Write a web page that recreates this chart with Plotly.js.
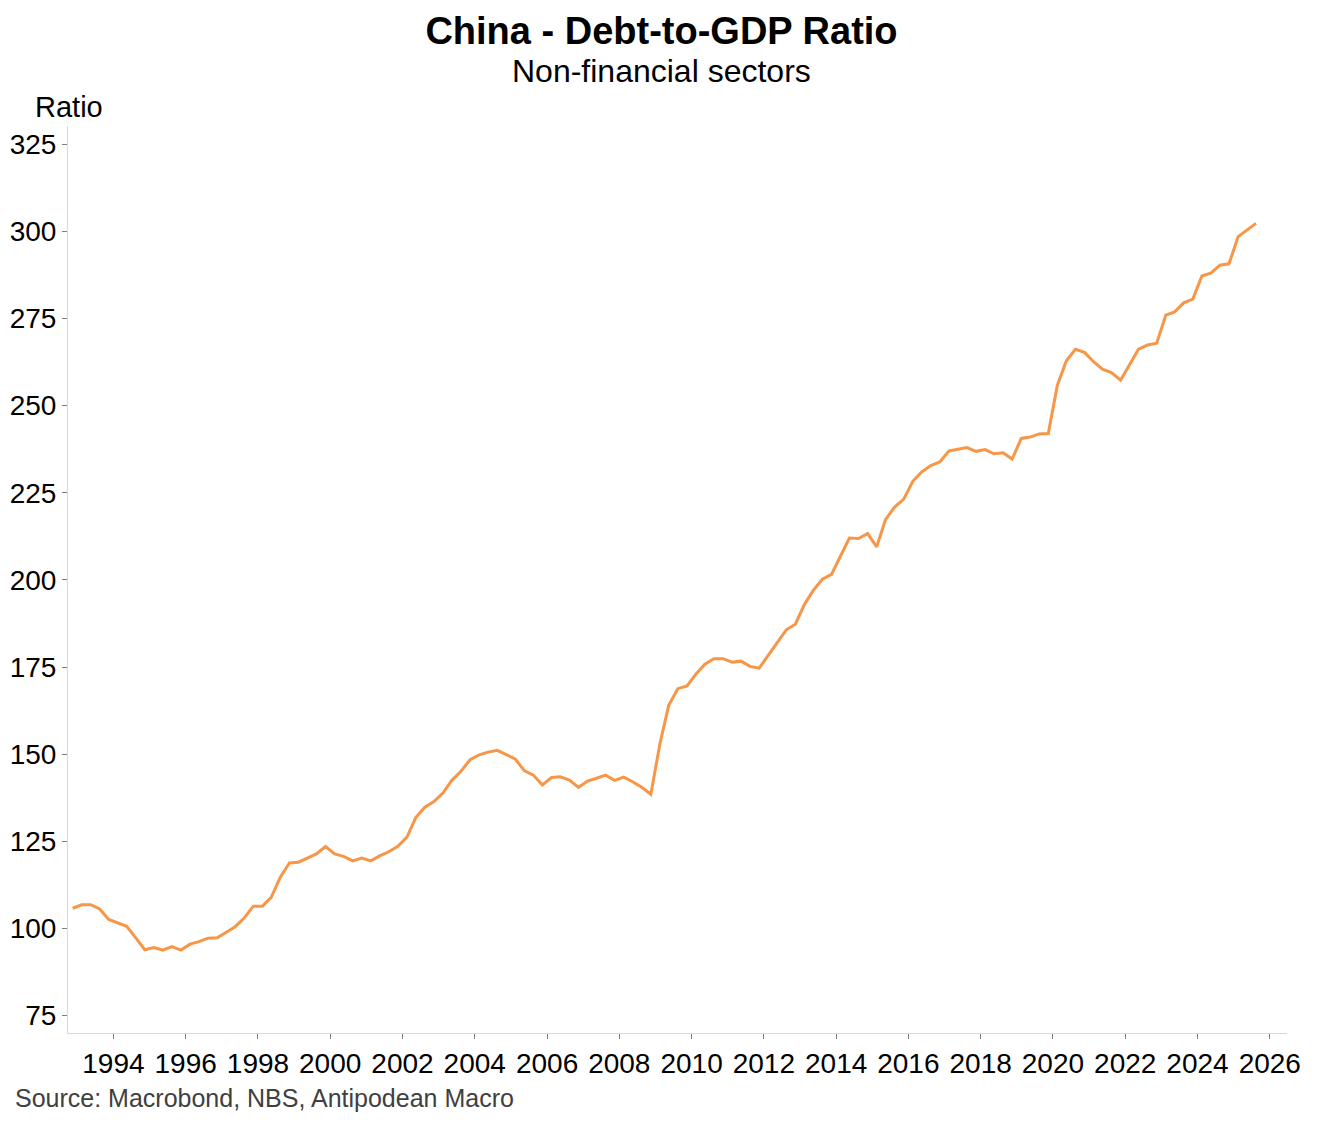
<!DOCTYPE html>
<html>
<head>
<meta charset="utf-8">
<script src="https://cdn.plot.ly/plotly-3.0.1.min.js"></script>
<style>
  html, body { margin: 0; padding: 0; background: #ffffff; }
  #chart { width: 1323px; height: 1122px; }
</style>
</head>
<body>
<div id="chart"></div>
<script>
// Quarterly observations, first quarter 1992 Q4, last 2025 Q3
const firstYear = 1992;
const firstQuarter = 4;
const debtToGdp = [
  105.8, 106.8, 106.8, 105.6, 102.6, 101.6, 100.6, 97.3, 93.9, 94.5,
  93.8, 94.8, 93.8, 95.5, 96.2, 97.2, 97.3, 98.9, 100.5, 103.0,
  106.4, 106.4, 108.9, 114.7, 118.8, 119.0, 120.2, 121.4, 123.5, 121.4,
  120.7, 119.4, 120.2, 119.4, 120.8, 122.0, 123.6, 126.2, 131.8, 134.8,
  136.4, 138.9, 142.5, 145.1, 148.4, 149.8, 150.6, 151.1, 149.9, 148.6,
  145.3, 144.0, 141.2, 143.3, 143.5, 142.6, 140.5, 142.3, 143.1, 144.0,
  142.5, 143.4, 142.1, 140.5, 138.5, 153.0, 164.0, 168.8, 169.6, 173.0,
  175.8, 177.4, 177.4, 176.4, 176.7, 175.2, 174.7, 178.4, 182.0, 185.7,
  187.3, 193.0, 197.0, 200.2, 201.6, 207.1, 212.0, 211.9, 213.3, 209.5,
  217.3, 220.9, 223.2, 228.3, 231.0, 232.8, 233.9, 237.0, 237.4, 238.0,
  236.9, 237.4, 236.2, 236.5, 234.7, 240.6, 241.0, 241.9, 242.0, 255.9,
  262.8, 266.2, 265.3, 262.6, 260.5, 259.5, 257.3, 261.8, 266.2, 267.4,
  267.9, 276.0, 276.9, 279.5, 280.6, 287.2, 288.0, 290.3, 290.7, 298.5,
  300.4, 302.3
];
const yTickValues = [75, 100, 125, 150, 175, 200, 225, 250, 275, 300, 325];
const xTickYears = [1994, 1996, 1998, 2000, 2002, 2004, 2006, 2008, 2010,
  2012, 2014, 2016, 2018, 2020, 2022, 2024, 2026];

const titleText = 'China - Debt-to-GDP Ratio';
const subtitleText = 'Non-financial sectors';
const yLabelText = 'Ratio';
const sourceText = 'Source: Macrobond, NBS, Antipodean Macro';

// Mid-quarter dates for each observation
const midMonthDay = ['02-15', '05-15', '08-15', '11-15'];
const dates = debtToGdp.map(function (_, i) {
  const q = (firstQuarter - 1) + i;
  const y = firstYear + Math.floor(q / 4);
  return y + '-' + midMonthDay[q % 4];
});

const FONT = '"Liberation Sans", Arial, Helvetica, sans-serif';
const W = 1323, H = 1122;
const M = { l: 68, r: 36, t: 126, b: 89 };
const PW = W - M.l - M.r, PH = H - M.t - M.b;
function px2paperX(px) { return (px - M.l) / PW; }
function px2paperY(py) { return (H - M.b - py) / PH; }

const trace = {
  x: dates,
  y: debtToGdp,
  type: 'scatter',
  mode: 'lines',
  line: { color: '#F79646', width: 3 },
  hoverinfo: 'x+y'
};

const layout = {
  width: W,
  height: H,
  paper_bgcolor: '#ffffff',
  plot_bgcolor: '#ffffff',
  margin: M,
  showlegend: false,
  font: { family: FONT, color: '#000000' },
  title: {
    text: '<b>' + titleText + '</b>',
    font: { family: FONT, size: 38, color: '#000000' },
    x: 0.5, xref: 'container', xanchor: 'center',
    y: 1 - 31 / H, yref: 'container', yanchor: 'middle'
  },
  xaxis: {
    type: 'date',
    range: ['1992-09-29', '2026-06-24'],
    tickvals: xTickYears.map(function (y) { return y + '-01-01'; }),
    ticktext: xTickYears.map(String),
    showgrid: false,
    zeroline: false,
    showline: true,
    linecolor: '#d9d9d9',
    linewidth: 1,
    ticks: 'outside',
    ticklen: 5,
    tickcolor: '#7f7f7f',
    tickwidth: 1,
    tickfont: { family: FONT, size: 28, color: '#000000' }
  },
  yaxis: {
    range: [70, 330.25],
    tickvals: yTickValues,
    ticktext: yTickValues.map(String),
    showgrid: false,
    zeroline: false,
    showline: true,
    linecolor: '#d9d9d9',
    linewidth: 1,
    ticks: 'outside',
    ticklen: 5,
    tickcolor: '#7f7f7f',
    tickwidth: 1,
    tickfont: { family: FONT, size: 28, color: '#000000' }
  },
  annotations: [
    {
      text: subtitleText,
      xref: 'paper', yref: 'paper',
      x: px2paperX(661.5), xanchor: 'center',
      y: px2paperY(71), yanchor: 'middle',
      showarrow: false,
      font: { family: FONT, size: 32, color: '#000000' }
    },
    {
      text: yLabelText,
      xref: 'paper', yref: 'paper',
      x: px2paperX(33), xanchor: 'left',
      y: px2paperY(107), yanchor: 'middle',
      showarrow: false,
      font: { family: FONT, size: 29, color: '#000000' }
    },
    {
      text: sourceText,
      xref: 'paper', yref: 'paper',
      x: px2paperX(13), xanchor: 'left',
      y: px2paperY(1098), yanchor: 'middle',
      showarrow: false,
      font: { family: FONT, size: 25, color: '#404040' }
    }
  ]
};

Plotly.newPlot('chart', [trace], layout, { displayModeBar: false, staticPlot: true });
</script>
</body>
</html>
